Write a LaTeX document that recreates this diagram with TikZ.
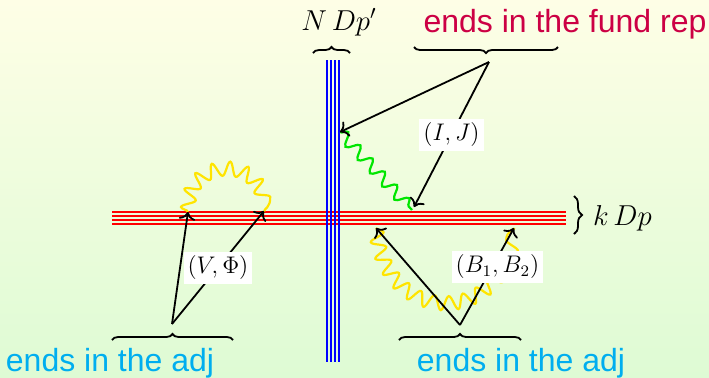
\documentclass[tikz,border=0pt]{standalone}
\usepackage{fontspec}
\setmainfont{Liberation Sans}
\usetikzlibrary{positioning, arrows.meta, decorations.pathreplacing, decorations.pathmorphing}

\definecolor{fundred}{RGB}{204,0,68}
\definecolor{adjblue}{RGB}{0,174,239}
\definecolor{bgtop}{RGB}{254,254,230}
\definecolor{bgbottom}{RGB}{222,251,212}
\definecolor{stryellow}{RGB}{255,228,0}
\definecolor{strgreen}{RGB}{0,230,0}

\begin{document}
\begin{tikzpicture}[
    x=0.5pt, y=-0.5pt,
    >={To[scale=1.1]},
    dbrane/.style={red, line width=1.25pt},
    dpbrane/.style={blue, line width=1.25pt},
    bracket/.style={decorate, decoration={brace, amplitude=3pt}, line width=0.9pt},
    caption/.style={font=\fontsize{16}{19}\selectfont, anchor=base},
    mathlbl/.style={font=\Large},
    tag/.style={font=\large, fill=white, inner xsep=2pt, inner ysep=2pt},
    wiggle/.style={decorate, decoration={snake, segment length=8pt, amplitude=3.5pt}, line width=1.1pt},
    pointer/.style={->, line width=0.9pt}
]

% --- background ---
\path[use as bounding box, top color=bgtop, bottom color=bgbottom] (0,0) rectangle (709,377);

% --- k Dp (horizontal) ---
\draw[dbrane] (112,212) -- (566,212);
\draw[dbrane] (112,216) -- (566,216);
\draw[dbrane] (112,220) -- (566,220);
\draw[dbrane] (112,224) -- (566,224);

% --- N Dp' (vertical) ---
\draw[dpbrane] (327,60) -- (327,362);
\draw[dpbrane] (331,60) -- (331,362);
\draw[dpbrane] (335,60) -- (335,362);
\draw[dpbrane] (339,60) -- (339,362);

% --- braces and captions ---
\draw[bracket] (313,53) -- (350,53);
\node[mathlbl, anchor=base] (ndlbl) at (339,30) {$N\,Dp'$};

\draw[bracket] (558,47) -- (414,47);
\node[caption, text=fundred] (fundlbl) at (565,32) {ends in the fund rep};

\draw[bracket, decoration={amplitude=4pt}] (574,196) -- (574,234);
\node[mathlbl, anchor=base west] (kdlbl) at (586,225) {$k\,Dp$};

\draw[bracket] (112,340) -- (233,340);
\node[caption, text=adjblue] (adjleft) at (110,371) {ends in the adj};

\draw[bracket] (399,340) -- (521,340);
\node[caption, text=adjblue] (adjright) at (521,371) {ends in the adj};

% --- string end points ---
\coordinate (fundtip) at (489,62);
\coordinate (blueend) at (340,132);
\coordinate (redend) at (414,207);
\coordinate (greenend) at (412,210);
\coordinate (leftfoot) at (172,324);
\coordinate (lhitA) at (188,212);
\coordinate (lhitB) at (264,211);
\coordinate (rightfoot) at (460,325);
\coordinate (rhitA) at (376,228);
\coordinate (rhitB) at (514,228);

% --- strings ---
\draw[wiggle, strgreen, decoration={segment length=9pt, amplitude=3pt}] (blueend) -- (greenend);
\draw[wiggle, stryellow] (lhitA) .. controls +(0,-52) and +(0,-52) .. (lhitB);
\draw[wiggle, stryellow] (rhitA) .. controls +(10,95) and +(-10,95) .. (rhitB);

% --- arrows from the braces ---
\draw[pointer] (fundtip) -- (blueend);
\draw[pointer] (fundtip) -- (redend) node[tag, midway] (ijlbl) {$(I,J)$};

\draw[pointer] (leftfoot) -- (lhitA);
\draw[pointer] (leftfoot) -- (lhitB) node[tag, midway] (vphilbl) {$(V,\Phi)$};

\draw[pointer] (rightfoot) -- (rhitA);
\draw[pointer] (rightfoot) -- (rhitB) node[tag, pos=0.6, xshift=2.5pt] (blbl) {$(B_1,B_2)$};

\end{tikzpicture}
\end{document}
